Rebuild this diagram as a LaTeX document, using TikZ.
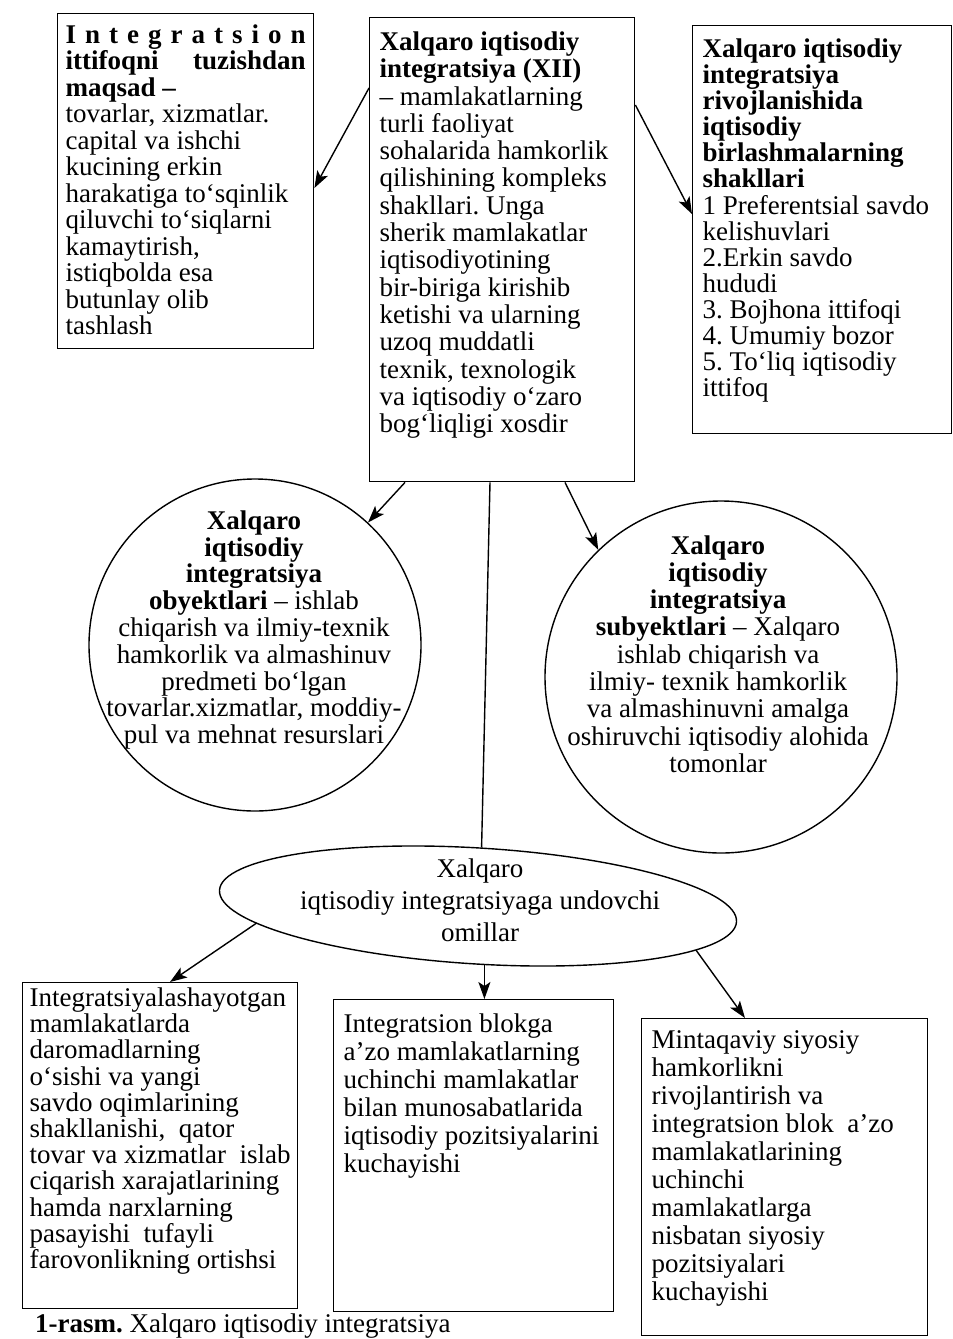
\documentclass[tikz,border=0pt]{standalone}
\usepackage{fontspec}
\setmainfont{Liberation Serif}
\usetikzlibrary{shapes.geometric, arrows.meta}

\newcommand\cellbox[3]{\parbox[c][#2][t]{#1}{\raggedright #3}}

\tikzset{
	box/.style={draw, line width=1.4pt, fill=white, anchor=north west, inner sep=0pt},
	ring/.style={draw, line width=1.4pt, circle, inner sep=0pt},
	oval/.style={draw, line width=1.4pt, ellipse, fill=white, inner sep=0pt},
	ctext/.style={align=center, inner sep=0pt},
	link/.style={line width=1.4pt, -{Stealth[length=17pt, width=12pt, inset=4pt]}},
	plain/.style={line width=1.4pt}
}

\begin{document}
\frenchspacing
		\begin{tikzpicture}[x=1pt, y=-1pt, font=\fontsize{27}{27.5}\selectfont]
			\useasboundingbox (0,0) rectangle (953,1339);

			\node[anchor=base west, inner sep=0pt] (cap) at (35,1332) {\textbf{1-rasm.} Xalqaro iqtisodiy integratsiya};

			\node[box, inner xsep=8pt, inner ysep=11pt, font=\fontsize{27}{26.5}\selectfont] (goal) at (57,13)
			{\cellbox{240pt}{313pt}{\makebox[\linewidth][s]{\textbf{I n t e g r a t s i o n}}\\
				\makebox[\linewidth][s]{\textbf{ittifoqni tuzishdan}}\\
				\textbf{maqsad –}\\
				tovarlar, xizmatlar.\\
				capital va ishchi\\
				kucining erkin\\
				harakatiga to‘sqinlik\\
				qiluvchi to‘siqlarni\\
				kamaytirish,\\
				istiqbolda esa\\
				butunlay olib\\
				tashlash}};

			\node[box, inner xsep=10pt, inner ysep=14pt, font=\fontsize{27}{27.3}\selectfont] (xii) at (369,17)
			{\cellbox{245pt}{436pt}{\textbf{Xalqaro iqtisodiy}\\
				\textbf{integratsiya (XII)}\\
				– mamlakatlarning\\
				turli faoliyat\\
				sohalarida hamkorlik\\
				qilishining kompleks\\
				shakllari. Unga\\
				sherik mamlakatlar\\
				iqtisodiyotining\\
				bir-biriga kirishib\\
				ketishi va ularning\\
				uzoq muddatli\\
				texnik, texnologik\\
				va iqtisodiy o‘zaro\\
				bog‘liqligi xosdir}};

			\node[box, inner xsep=10pt, inner ysep=13pt, font=\fontsize{27}{26.1}\selectfont] (forms) at (692,25)
			{\cellbox{239pt}{382pt}{\textbf{Xalqaro iqtisodiy}\\
				\textbf{integratsiya}\\
				\textbf{rivojlanishida}\\
				\textbf{iqtisodiy}\\
				\textbf{birlashmalarning}\\
				\textbf{shakllari}\\
				1 Preferentsial savdo\\
				kelishuvlari\\
				2.Erkin savdo\\
				hududi\\
				3. Bojhona ittifoqi\\
				4. Umumiy bozor\\
				5. To‘liq iqtisodiy\\
				ittifoq}};

			\node[ring, minimum size=332pt] (obj) at (255,645) {};
			\node[ctext, font=\fontsize{27}{26.8}\selectfont] (objtxt) at (254,630)
			{\textbf{Xalqaro}\\
				\textbf{iqtisodiy}\\
				\textbf{integratsiya}\\
				\textbf{obyektlari} – ishlab\\
				chiqarish va ilmiy-texnik\\
				hamkorlik va almashinuv\\
				predmeti bo‘lgan\\
				tovarlar.xizmatlar, moddiy-\\
				pul va mehnat resurslari};

			\node[ring, minimum size=352pt] (subj) at (721,677) {};
			\node[ctext, font=\fontsize{27}{27.3}\selectfont] (subjtxt) at (718,654)
			{\textbf{Xalqaro}\\
				\textbf{iqtisodiy}\\
				\textbf{integratsiya}\\
				\textbf{subyektlari} – Xalqaro\\
				ishlab chiqarish va\\
				ilmiy- texnik hamkorlik\\
				va almashinuvni amalga\\
				oshiruvchi iqtisodiy alohida\\
				tomonlar};

			\node[oval, rotate=-3.5, minimum width=518pt, minimum height=116pt] (omil) at (478,906) {};
			\node[ctext, font=\fontsize{27}{32}\selectfont] (omiltxt) at (480,900)
			{Xalqaro\\
				iqtisodiy integratsiyaga undovchi\\
				omillar};

			\node[box, inner xsep=7pt, inner ysep=5pt, font=\fontsize{27}{26.2}\selectfont] (gain) at (22,982)
			{\cellbox{261pt}{316pt}{Integratsiyalashayotgan\\
				mamlakatlarda\\
				daromadlarning\\
				o‘sishi va yangi\\
				savdo oqimlarining\\
				shakllanishi,\ \ qator\\
				tovar va xizmatlar\ \ islab\\
				ciqarish xarajatlarining\\
				hamda narxlarning\\
				pasayishi\ \ tufayli\\
				farovonlikning ortishsi}};

			\node[box, inner xsep=10pt, inner ysep=14pt, font=\fontsize{27}{28}\selectfont] (pos) at (333,999)
			{\cellbox{260pt}{284pt}{Integratsion blokga\\
				a’zo mamlakatlarning\\
				uchinchi mamlakatlar\\
				bilan munosabatlarida\\
				iqtisodiy pozitsiyalarini\\
				kuchayishi}};

			\node[box, inner xsep=10pt, inner ysep=12pt, font=\fontsize{27}{28}\selectfont] (polit) at (641,1018)
			{\cellbox{266pt}{293pt}{Mintaqaviy siyosiy\\
				hamkorlikni\\
				rivojlantirish va\\
				integratsion blok\ \ a’zo\\
				mamlakatlarining\\
				uchinchi\\
				mamlakatlarga\\
				nisbatan siyosiy\\
				pozitsiyalari\\
				kuchayishi}};

			\coordinate (omilb) at ([xshift=10pt]omil.south);

			\draw[plain] ([xshift=121pt]xii.south west) -- (omil.north);

			\begin{scope}[link]
				\draw ([yshift=-71pt]xii.north west) -- ([yshift=-175pt]goal.north east);
				\draw ([yshift=-88pt]xii.north east) -- ([yshift=-189pt]forms.north west);
				\draw ([xshift=36pt]xii.south west) -- (obj);
				\draw ([xshift=196pt]xii.south west) -- (subj.134);
				\draw (omil.188) -- ([xshift=148pt]gain.north west);
				\draw (omilb) -- (omilb |- pos.north);
				\draw (omil.-8) -- ([xshift=104pt]polit.north west);
			\end{scope}
		\end{tikzpicture}
\end{document}
